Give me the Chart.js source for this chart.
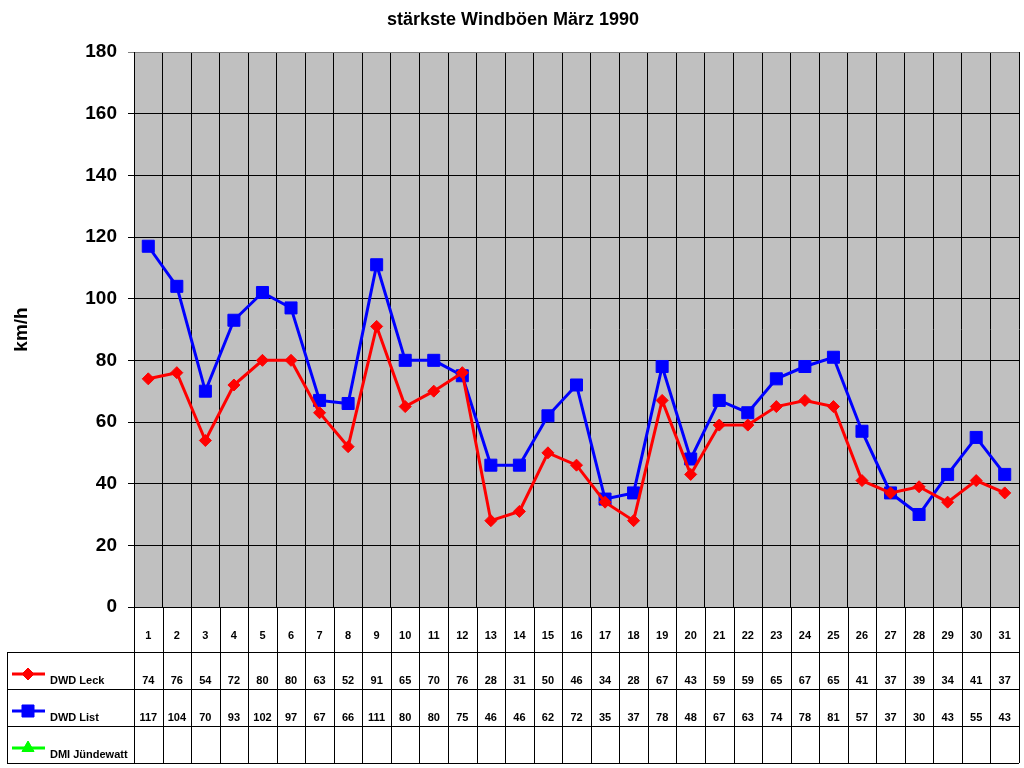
<!DOCTYPE html>
<html>
<head>
<meta charset="utf-8">
<script src="https://cdn.jsdelivr.net/npm/chart.js@4.4.1/dist/chart.umd.min.js"></script>
<style>
  html, body { margin: 0; padding: 0; background: #fff; }
  canvas { display: block; }
</style>
</head>
<body>
<canvas id="c" width="1024" height="768"></canvas>
<script>
const chartTitle = 'stärkste Windböen März 1990';
const yTitle = 'km/h';
const days = ['1','2','3','4','5','6','7','8','9','10','11','12','13','14','15','16','17','18','19','20','21','22','23','24','25','26','27','28','29','30','31'];
const seriesNames = ['DWD Leck', 'DWD List', 'DMI Jündewatt'];
const dwdLeck = [74,76,54,72,80,80,63,52,91,65,70,76,28,31,50,46,34,28,67,43,59,59,65,67,65,41,37,39,34,41,37];
const dwdList = [117,104,70,93,102,97,67,66,111,80,80,75,46,46,62,72,35,37,78,48,67,63,74,78,81,57,37,30,43,55,43];
const dmiJuendewatt = days.map(() => null);
const yTicks = [0,20,40,60,80,100,120,140,160,180];

const FONT = "Arial, 'Liberation Sans', sans-serif";
const seriesColors = ['#FF0000', '#0000FF', '#00FF00'];
const seriesStyles = ['rectRot', 'rect', 'triangle'];
const seriesRadii = [6, 8.5, 7];
const seriesData = [dwdLeck, dwdList, dmiJuendewatt];

const plotBg = {
  id: 'plotBg',
  beforeDraw(chart) {
    const {ctx, chartArea: a} = chart;
    ctx.save();
    ctx.fillStyle = '#C0C0C0';
    ctx.fillRect(a.left, a.top, a.right - a.left, a.bottom - a.top);
    ctx.restore();
  }
};

const dataTable = {
  id: 'dataTable',
  afterDraw(chart) {
    const {ctx, chartArea: a} = chart;
    const x = chart.scales.x;
    const n = days.length;
    const colW = x.getPixelForValue(1) - x.getPixelForValue(0);
    const tableLeft = chart.scales.y.left;
    const tableRight = a.right;
    const headerTop = a.bottom;
    const rowTops = [652, 689, 726];
    const tableBottom = 763;
    ctx.save();
    ctx.strokeStyle = '#000';
    ctx.lineWidth = 1;
    for (let i = 0; i <= n; i++) {
      const bx = Math.round(x.getPixelForValue(i) - colW / 2) + 0.5;
      ctx.beginPath();
      ctx.moveTo(bx, headerTop);
      ctx.lineTo(bx, tableBottom);
      ctx.stroke();
    }
    ctx.beginPath();
    ctx.moveTo(tableLeft + 0.5, rowTops[0]);
    ctx.lineTo(tableLeft + 0.5, tableBottom);
    ctx.stroke();
    [...rowTops, tableBottom].forEach(yy => {
      ctx.beginPath();
      ctx.moveTo(tableLeft, yy + 0.5);
      ctx.lineTo(tableRight, yy + 0.5);
      ctx.stroke();
    });
    ctx.font = 'bold 11px ' + FONT;
    ctx.fillStyle = '#000';
    ctx.textBaseline = 'middle';
    ctx.textAlign = 'center';
    days.forEach((d, i) => ctx.fillText(d, x.getPixelForValue(i), headerTop + 29));
    seriesNames.forEach((name, r) => {
      const top = rowTops[r];
      const col = seriesColors[r];
      ctx.strokeStyle = col;
      ctx.lineWidth = 3;
      ctx.beginPath();
      ctx.moveTo(tableLeft + 5, top + 22);
      ctx.lineTo(tableLeft + 38, top + 22);
      ctx.stroke();
      ctx.fillStyle = col;
      ctx.lineWidth = 1;
      Chart.helpers.drawPoint(ctx, {pointStyle: seriesStyles[r], radius: seriesRadii[r], borderWidth: 1, rotation: 0}, tableLeft + 21, top + 22);
      ctx.fill();
      ctx.fillStyle = '#000';
      ctx.textAlign = 'left';
      ctx.fillText(name, tableLeft + 43, top + 29);
      ctx.textAlign = 'center';
      seriesData[r].forEach((v, i) => {
        if (v === null || v === undefined) return;
        ctx.fillText(String(v), x.getPixelForValue(i), top + 29);
      });
    });
    ctx.restore();
  }
};

new Chart(document.getElementById('c'), {
  type: 'line',
  data: {
    labels: days,
    datasets: seriesNames.map((name, r) => ({
      label: name,
      data: seriesData[r],
      borderColor: seriesColors[r],
      backgroundColor: seriesColors[r],
      borderWidth: 3,
      pointStyle: seriesStyles[r],
      pointRadius: seriesRadii[r],
      pointBorderWidth: 1,
      pointHoverRadius: seriesRadii[r],
      tension: 0,
      fill: false
    }))
  },
  options: {
    responsive: false,
    devicePixelRatio: 1,
    animation: false,
    layout: { autoPadding: false, padding: { left: 7, right: 5, top: 0, bottom: 5 } },
    plugins: {
      legend: { display: false },
      tooltip: { enabled: false },
      title: {
        display: true,
        text: chartTitle,
        color: '#000',
        font: { family: FONT, size: 18, weight: 'bold' },
        padding: { top: 9, bottom: 21.4 }
      }
    },
    scales: {
      x: {
        type: 'category',
        offset: true,
        grid: {
          display: true, offset: true, lineWidth: 1, drawTicks: false,
          color: (c) => c.index === days.length ? '#808080' : '#000'
        },
        border: { display: true, color: '#000', width: 1 },
        ticks: { display: false, padding: 0 },
        afterFit(scale) { scale.height = 156; }
      },
      y: {
        min: 0,
        max: 180,
        afterBuildTicks(scale) { scale.ticks = yTicks.map(v => ({ value: v })); },
        grid: {
          color: (c) => (c.tick && c.tick.value === 180) ? '#808080' : '#000',
          lineWidth: 1,
          tickLength: 6
        },
        border: { display: true, color: '#000', width: 1 },
        ticks: { color: '#000', font: { family: FONT, size: 19, weight: 'bold' }, padding: 11 },
        title: {
          display: true,
          text: yTitle,
          color: '#000',
          font: { family: FONT, size: 19, weight: 'bold' },
          padding: { top: 3, bottom: 0 }
        },
        afterFit(scale) { scale.width = 127; }
      }
    }
  },
  plugins: [plotBg, dataTable]
});
</script>
</body>
</html>
